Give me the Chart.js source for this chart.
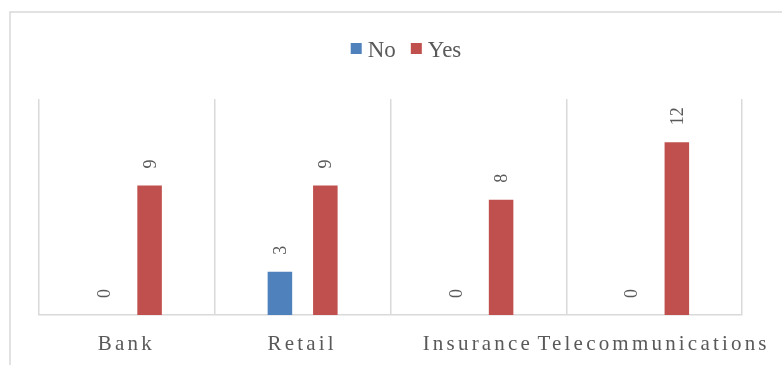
<!DOCTYPE html>
<html>
<head>
<meta charset="utf-8">
<script src="https://cdn.jsdelivr.net/npm/chart.js@4"></script>
<style>
  html, body { margin: 0; padding: 0; background: #fff; }
  #wrap { width: 782px; height: 365px; position: relative; }
</style>
</head>
<body>
<div id="wrap"><canvas id="chart"></canvas></div>
<script>
const categories = ['Bank', 'Retail', 'Insurance', 'Telecommunications'];
const seriesNames = ['No', 'Yes'];
const noValues = [0, 3, 0, 0];
const yesValues = [9, 9, 8, 12];
const seriesColors = ['#4F81BD', '#C0504D'];

const textColor = '#595959';
const serif = '"Liberation Serif", "Times New Roman", serif';

// frame, legend, spaced axis labels and rotated value labels
const decorations = {
  id: 'decorations',
  beforeDraw(chart) {
    const ctx = chart.ctx;
    ctx.save();
    ctx.strokeStyle = '#d9d9d9';
    ctx.lineWidth = 1.5;
    ctx.strokeRect(10, 12, 820, 420);
    ctx.restore();
  },
  afterDraw(chart) {
    const ctx = chart.ctx;
    const area = chart.chartArea;

    // legend
    ctx.save();
    ctx.font = '23px ' + serif;
    ctx.textBaseline = 'alphabetic';
    const box = 11, gap = 6, itemGap = 15;
    let total = 0;
    chart.data.datasets.forEach((ds, i) => {
      total += box + gap + ctx.measureText(ds.label).width;
      if (i > 0) total += itemGap;
    });
    let x = 406 - total / 2;
    chart.data.datasets.forEach((ds) => {
      ctx.fillStyle = ds.backgroundColor;
      ctx.fillRect(x, 43, box, box);
      x += box + gap;
      ctx.fillStyle = textColor;
      ctx.fillText(ds.label, x, 56.5);
      x += ctx.measureText(ds.label).width + itemGap;
    });
    ctx.restore();

    // category labels with letter spacing
    const xScale = chart.scales.x;
    ctx.save();
    ctx.font = '21px ' + serif;
    ctx.fillStyle = textColor;
    ctx.letterSpacing = '3.2px';
    ctx.textAlign = 'center';
    ctx.textBaseline = 'alphabetic';
    chart.data.labels.forEach((lab, i) => {
      const cx = xScale.getPixelForValue(i);
      ctx.fillText(lab, cx - 0.5, area.bottom + 35);
    });
    ctx.restore();

    // value labels, rotated
    ctx.save();
    ctx.font = '18px ' + serif;
    ctx.fillStyle = textColor;
    ctx.textAlign = 'left';
    ctx.textBaseline = 'alphabetic';
    chart.data.datasets.forEach((ds, di) => {
      const meta = chart.getDatasetMeta(di);
      meta.data.forEach((bar, i) => {
        ctx.save();
        ctx.translate(bar.x, bar.y - 17);
        ctx.rotate(-Math.PI / 2);
        ctx.fillText(String(ds.data[i]), 0, 6);
        ctx.restore();
      });
    });
    ctx.restore();
  }
};

new Chart(document.getElementById('chart'), {
  type: 'bar',
  data: {
    labels: categories,
    datasets: [
      { label: seriesNames[0], data: noValues, backgroundColor: seriesColors[0] },
      { label: seriesNames[1], data: yesValues, backgroundColor: seriesColors[1] }
    ]
  },
  options: {
    responsive: true,
    maintainAspectRatio: false,
    animation: false,
    layout: { padding: { left: 39, right: 40, top: 99, bottom: 50 } },
    datasets: {
      bar: { categoryPercentage: 0.517, barPercentage: 0.54 }
    },
    plugins: {
      legend: { display: false },
      tooltip: { enabled: false }
    },
    scales: {
      x: {
        grid: { color: '#d9d9d9', lineWidth: 1.5, drawTicks: false, offset: true },
        border: { color: '#d9d9d9', width: 1.5 },
        ticks: { display: false }
      },
      y: {
        display: false,
        min: 0,
        max: 15
      }
    }
  },
  plugins: [decorations]
});
</script>
</body>
</html>
